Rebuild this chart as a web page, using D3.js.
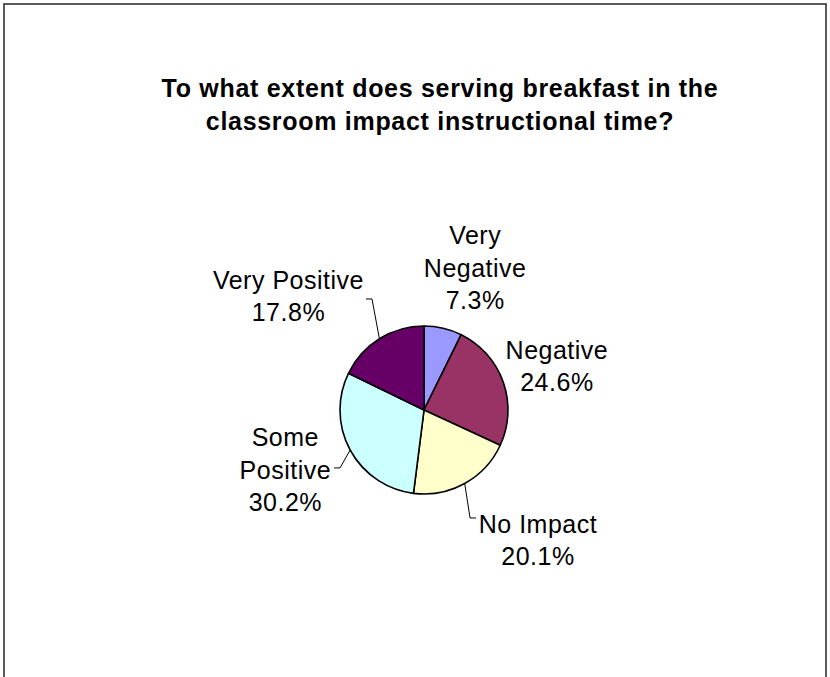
<!DOCTYPE html>
<html>
<head>
<meta charset="utf-8">
<script src="https://cdn.jsdelivr.net/npm/d3@7/dist/d3.min.js"></script>
<style>
  html, body { margin: 0; padding: 0; background: #fff; }
  svg { display: block; }
  text { font-family: "Liberation Sans", Arial, sans-serif; fill: #000; }
</style>
</head>
<body>
<svg id="chart" width="830" height="677"></svg>
<script>
// ---- data ----
const categories = ["Very Negative", "Negative", "No Impact", "Some Positive", "Very Positive"];
const values = [7.3, 24.6, 20.1, 30.2, 17.8];
const labelLines = [["Very", "Negative", "7.3%"], ["Negative", "24.6%"], ["No Impact", "20.1%"], ["Some", "Positive", "30.2%"], ["Very Positive", "17.8%"]];
const colors = ["#9999FF", "#993366", "#FFFFCC", "#CCFFFF", "#660066"];
const titleLines = ["To what extent does serving breakfast in the", "classroom impact instructional time?"];

// ---- layout (polar: degrees clockwise from 12 o'clock, radius px) ----
const labelPolar = [[19.8, 151], [71.7, 140], [138.8, 173], [246.7, 151], [310, 177]];
const leaderPolar = [null, null, [156.9, 117.4], [235.4, 102], [334.9, 122.6]];

const svg = d3.select("#chart");
const cx = 424, cy = 410, R = 84;

// frame
svg.append("rect").attr("x", 4).attr("y", 4).attr("width", 822).attr("height", 720)
  .attr("fill", "none").attr("stroke", "#333333").attr("stroke-width", 1.6);

// title
const title = svg.append("text").attr("text-anchor", "middle")
  .attr("font-size", 25).attr("font-weight", "bold").attr("letter-spacing", 0.7);
titleLines.forEach((t, i) => {
  title.append("tspan").attr("x", 440).attr("y", 97 + i * 33).text(t);
});

const data = categories.map((c, i) => ({ cat: c, value: values[i], color: colors[i], lines: labelLines[i], lp: labelPolar[i], ld: leaderPolar[i] }));

const pie = d3.pie().value(d => d.value).sort(null);
const arc = d3.arc().innerRadius(0).outerRadius(R);
const arcs = pie(data);

const g = svg.append("g").attr("transform", `translate(${cx},${cy})`);
g.selectAll("path.slice").data(arcs).enter().append("path")
  .attr("class", "slice")
  .attr("d", arc)
  .attr("fill", d => d.data.color)
  .attr("stroke", "#000").attr("stroke-width", 1.6).attr("stroke-linejoin", "round");

const polar = (deg, r) => {
  const a = deg * Math.PI / 180;
  return [r * Math.sin(a), -r * Math.cos(a)];
};

const lineH = 32.5;
arcs.forEach(a => {
  const d = a.data;
  const [lx, ly] = polar(d.lp[0], d.lp[1]);
  const n = d.lines.length;
  const t = g.append("text").attr("text-anchor", "middle").attr("font-size", 25).attr("letter-spacing", 0.5);
  d.lines.forEach((s, i) => {
    t.append("tspan").attr("x", lx).attr("y", ly + (i - (n - 1) / 2) * lineH + 9).text(s);
  });
  if (d.ld) {
    const mid = (a.startAngle + a.endAngle) / 2;
    const p0 = [R * Math.sin(mid), -R * Math.cos(mid)];
    const p1 = polar(d.ld[0], d.ld[1]);
    const tickDir = lx < p1[0] ? -1 : 1;
    const p2 = [p1[0] + tickDir * 6, p1[1]];
    g.append("polyline")
      .attr("points", [p0, p1, p2].map(p => p.join(",")).join(" "))
      .attr("fill", "none").attr("stroke", "#000").attr("stroke-width", 1);
  }
});
</script>
</body>
</html>
